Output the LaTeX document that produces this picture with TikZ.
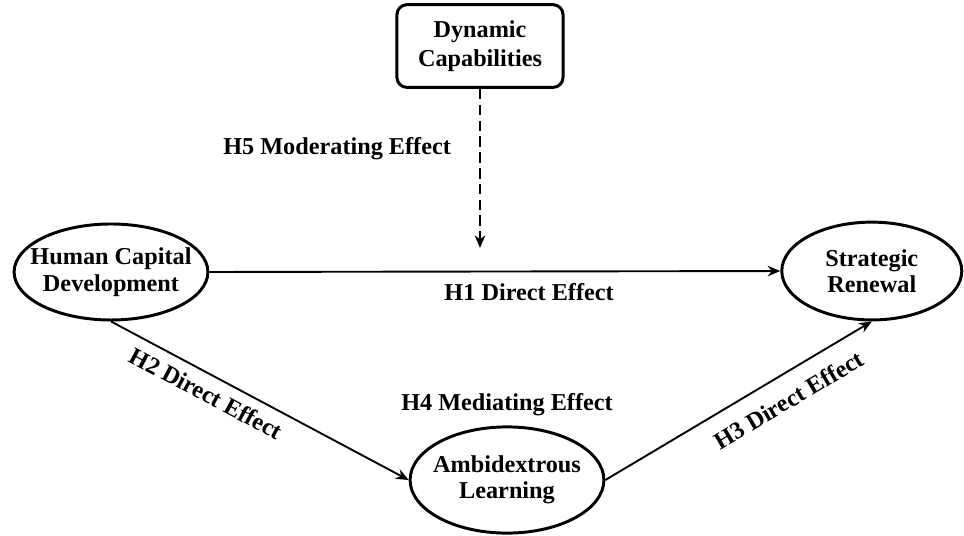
\documentclass[tikz,border=0pt]{standalone}
\usepackage{fontspec}
\setmainfont{Liberation Serif}
\usepackage{tikz}
\usetikzlibrary{shapes.geometric, arrows.meta}

\tikzset{
  construct/.style={draw, ellipse, line width=1.4pt, align=center,
    inner xsep=-0.25cm, inner ysep=0.1cm,
    font=\bfseries\fontsize{11.5}{12.5}\selectfont},
  moderator/.style={draw, rectangle, rounded corners=0.17cm, line width=1.4pt,
    align=center, minimum width=2.77cm, minimum height=1.38cm,
    font=\bfseries\fontsize{11.5}{13.5}\selectfont},
  elabel/.style={font=\bfseries\fontsize{11.5}{12.5}\selectfont},
  link/.style={-{Stealth[length=6pt, width=5pt]}, line width=0.9pt},
  modlink/.style={link, line width=1pt, dash pattern=on 5pt off 2.5pt}
}

\begin{document}
\begin{tikzpicture}

  \useasboundingbox (0,0) rectangle (16.067,-8.917);

  % Constructs
  \node[moderator] (dyn) at (8.0,-0.767)
    {Dynamic\\ Capabilities};
  \node[construct, minimum width=3.23cm, minimum height=1.6cm] (hcd)
    at (1.85,-4.533) {Human Capital\\ Development};
  \node[construct, minimum width=3.0cm, minimum height=1.63cm] (sr)
    at (14.53,-4.517) {Strategic\\ Renewal};
  \node[construct, minimum width=3.23cm, minimum height=1.77cm] (al)
    at (8.45,-8.0) {Ambidextrous\\ Learning};

  \coordinate (mod) at (8.0,-4.133);
  \node[elabel] (h4) at (8.45,-6.75) {H4 Mediating Effect};

  % Paths
  \draw[link] (hcd.east) -- node[elabel, pos=0.56, below=2pt]
    {H1 Direct Effect} (sr.west);
  \draw[link] (hcd.south) -- node[elabel, pos=0.35, below=1pt, sloped]
    {H2 Direct Effect} (al.west);
  \draw[link] (al.east) -- node[elabel, pos=0.64, below=4pt, sloped]
    {H3 Direct Effect} (sr.south);
  \draw[modlink] (dyn) -- node[elabel, pos=0.375, left=0.35cm]
    {H5 Moderating Effect} (mod);

\end{tikzpicture}
\end{document}
